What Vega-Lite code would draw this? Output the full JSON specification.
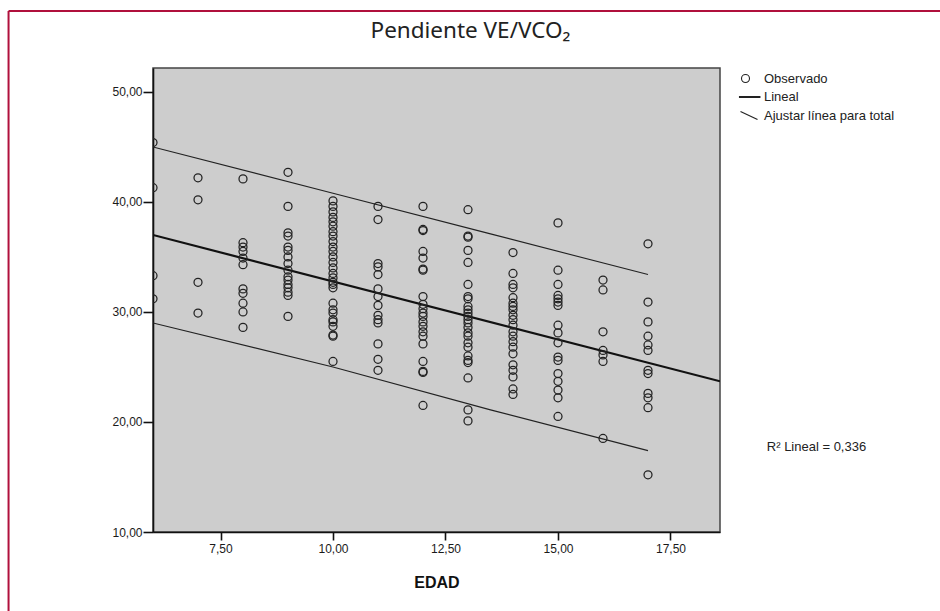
{
  "$schema": "https://vega.github.io/schema/vega-lite/v6.json",
  "autosize": "none",
  "width": 567,
  "height": 464,
  "padding": {"left": 153, "top": 68, "right": 220, "bottom": 79},
  "background": "white",
  "title": {
    "text": "Pendiente VE/VCO₂",
    "font": "Noto Sans",
    "fontSize": 22.5,
    "fontWeight": "normal",
    "color": "#222222",
    "anchor": "middle",
    "frame": "group",
    "dx": 34,
    "offset": -32
  },
  "datasets": {
    "obs": [
      {"EDAD": 6, "VE": 45.4}, {"EDAD": 6, "VE": 41.3}, {"EDAD": 6, "VE": 33.3}, {"EDAD": 6, "VE": 31.2},
      {"EDAD": 7, "VE": 42.2}, {"EDAD": 7, "VE": 40.2}, {"EDAD": 7, "VE": 32.7}, {"EDAD": 7, "VE": 29.9},
      {"EDAD": 8, "VE": 42.1}, {"EDAD": 8, "VE": 36.3}, {"EDAD": 8, "VE": 35.9}, {"EDAD": 8, "VE": 35.5}, {"EDAD": 8, "VE": 34.9}, {"EDAD": 8, "VE": 34.3}, {"EDAD": 8, "VE": 32.1}, {"EDAD": 8, "VE": 31.7}, {"EDAD": 8, "VE": 30.8}, {"EDAD": 8, "VE": 30.0}, {"EDAD": 8, "VE": 28.6},
      {"EDAD": 9, "VE": 42.7}, {"EDAD": 9, "VE": 39.6}, {"EDAD": 9, "VE": 37.2}, {"EDAD": 9, "VE": 36.9}, {"EDAD": 9, "VE": 35.9}, {"EDAD": 9, "VE": 35.6}, {"EDAD": 9, "VE": 35.0}, {"EDAD": 9, "VE": 34.4}, {"EDAD": 9, "VE": 33.8}, {"EDAD": 9, "VE": 33.2}, {"EDAD": 9, "VE": 32.9}, {"EDAD": 9, "VE": 32.5}, {"EDAD": 9, "VE": 32.2}, {"EDAD": 9, "VE": 31.8}, {"EDAD": 9, "VE": 31.5}, {"EDAD": 9, "VE": 29.6},
      {"EDAD": 10, "VE": 40.1}, {"EDAD": 10, "VE": 39.6}, {"EDAD": 10, "VE": 39.1}, {"EDAD": 10, "VE": 38.6}, {"EDAD": 10, "VE": 38.2}, {"EDAD": 10, "VE": 37.8}, {"EDAD": 10, "VE": 37.3}, {"EDAD": 10, "VE": 36.9}, {"EDAD": 10, "VE": 36.4}, {"EDAD": 10, "VE": 35.9}, {"EDAD": 10, "VE": 35.5}, {"EDAD": 10, "VE": 35.0}, {"EDAD": 10, "VE": 34.5}, {"EDAD": 10, "VE": 34.0}, {"EDAD": 10, "VE": 33.5}, {"EDAD": 10, "VE": 33.1}, {"EDAD": 10, "VE": 32.7}, {"EDAD": 10, "VE": 32.5}, {"EDAD": 10, "VE": 32.2}, {"EDAD": 10, "VE": 30.8}, {"EDAD": 10, "VE": 30.2}, {"EDAD": 10, "VE": 29.9}, {"EDAD": 10, "VE": 29.3}, {"EDAD": 10, "VE": 29.1}, {"EDAD": 10, "VE": 28.7}, {"EDAD": 10, "VE": 27.9}, {"EDAD": 10, "VE": 27.8}, {"EDAD": 10, "VE": 25.5},
      {"EDAD": 11, "VE": 39.6}, {"EDAD": 11, "VE": 38.4}, {"EDAD": 11, "VE": 34.4}, {"EDAD": 11, "VE": 34.1}, {"EDAD": 11, "VE": 33.4}, {"EDAD": 11, "VE": 32.1}, {"EDAD": 11, "VE": 31.4}, {"EDAD": 11, "VE": 30.6}, {"EDAD": 11, "VE": 29.7}, {"EDAD": 11, "VE": 29.3}, {"EDAD": 11, "VE": 29.0}, {"EDAD": 11, "VE": 27.1}, {"EDAD": 11, "VE": 25.7}, {"EDAD": 11, "VE": 24.7},
      {"EDAD": 12, "VE": 39.6}, {"EDAD": 12, "VE": 37.5}, {"EDAD": 12, "VE": 37.4}, {"EDAD": 12, "VE": 35.5}, {"EDAD": 12, "VE": 34.9}, {"EDAD": 12, "VE": 33.9}, {"EDAD": 12, "VE": 33.8}, {"EDAD": 12, "VE": 31.4}, {"EDAD": 12, "VE": 30.7}, {"EDAD": 12, "VE": 30.3}, {"EDAD": 12, "VE": 29.9}, {"EDAD": 12, "VE": 29.6}, {"EDAD": 12, "VE": 29.1}, {"EDAD": 12, "VE": 28.7}, {"EDAD": 12, "VE": 28.2}, {"EDAD": 12, "VE": 27.8}, {"EDAD": 12, "VE": 27.1}, {"EDAD": 12, "VE": 25.5}, {"EDAD": 12, "VE": 24.6}, {"EDAD": 12, "VE": 24.5}, {"EDAD": 12, "VE": 21.5},
      {"EDAD": 13, "VE": 39.3}, {"EDAD": 13, "VE": 36.9}, {"EDAD": 13, "VE": 36.8}, {"EDAD": 13, "VE": 35.6}, {"EDAD": 13, "VE": 34.5}, {"EDAD": 13, "VE": 32.5}, {"EDAD": 13, "VE": 31.4}, {"EDAD": 13, "VE": 31.2}, {"EDAD": 13, "VE": 30.5}, {"EDAD": 13, "VE": 30.2}, {"EDAD": 13, "VE": 29.9}, {"EDAD": 13, "VE": 29.6}, {"EDAD": 13, "VE": 29.3}, {"EDAD": 13, "VE": 29.0}, {"EDAD": 13, "VE": 28.6}, {"EDAD": 13, "VE": 28.1}, {"EDAD": 13, "VE": 27.8}, {"EDAD": 13, "VE": 27.2}, {"EDAD": 13, "VE": 26.8}, {"EDAD": 13, "VE": 26.0}, {"EDAD": 13, "VE": 25.6}, {"EDAD": 13, "VE": 25.4}, {"EDAD": 13, "VE": 24.0}, {"EDAD": 13, "VE": 21.1}, {"EDAD": 13, "VE": 20.1},
      {"EDAD": 14, "VE": 35.4}, {"EDAD": 14, "VE": 33.5}, {"EDAD": 14, "VE": 32.5}, {"EDAD": 14, "VE": 32.2}, {"EDAD": 14, "VE": 31.3}, {"EDAD": 14, "VE": 30.8}, {"EDAD": 14, "VE": 30.5}, {"EDAD": 14, "VE": 30.2}, {"EDAD": 14, "VE": 29.7}, {"EDAD": 14, "VE": 29.3}, {"EDAD": 14, "VE": 28.8}, {"EDAD": 14, "VE": 28.2}, {"EDAD": 14, "VE": 27.8}, {"EDAD": 14, "VE": 27.3}, {"EDAD": 14, "VE": 26.8}, {"EDAD": 14, "VE": 26.2}, {"EDAD": 14, "VE": 25.2}, {"EDAD": 14, "VE": 24.7}, {"EDAD": 14, "VE": 24.1}, {"EDAD": 14, "VE": 23.0}, {"EDAD": 14, "VE": 22.5},
      {"EDAD": 15, "VE": 38.1}, {"EDAD": 15, "VE": 33.8}, {"EDAD": 15, "VE": 32.5}, {"EDAD": 15, "VE": 31.5}, {"EDAD": 15, "VE": 31.2}, {"EDAD": 15, "VE": 30.9}, {"EDAD": 15, "VE": 30.6}, {"EDAD": 15, "VE": 28.8}, {"EDAD": 15, "VE": 28.1}, {"EDAD": 15, "VE": 27.2}, {"EDAD": 15, "VE": 25.9}, {"EDAD": 15, "VE": 25.6}, {"EDAD": 15, "VE": 24.4}, {"EDAD": 15, "VE": 23.7}, {"EDAD": 15, "VE": 22.9}, {"EDAD": 15, "VE": 22.2}, {"EDAD": 15, "VE": 20.5},
      {"EDAD": 16, "VE": 32.9}, {"EDAD": 16, "VE": 32.0}, {"EDAD": 16, "VE": 28.2}, {"EDAD": 16, "VE": 26.5}, {"EDAD": 16, "VE": 26.1}, {"EDAD": 16, "VE": 25.5}, {"EDAD": 16, "VE": 18.5},
      {"EDAD": 17, "VE": 36.2}, {"EDAD": 17, "VE": 30.9}, {"EDAD": 17, "VE": 29.1}, {"EDAD": 17, "VE": 27.8}, {"EDAD": 17, "VE": 27.0}, {"EDAD": 17, "VE": 26.5}, {"EDAD": 17, "VE": 24.7}, {"EDAD": 17, "VE": 24.4}, {"EDAD": 17, "VE": 22.6}, {"EDAD": 17, "VE": 22.2}, {"EDAD": 17, "VE": 21.3}, {"EDAD": 17, "VE": 15.2}
    ],
    "fit": [
      {"EDAD": 6, "VE": 37.0},
      {"EDAD": 18.6, "VE": 23.7}
    ],
    "bands": [
      {"banda": "superior", "EDAD": 6, "VE": 45.0},
      {"banda": "superior", "EDAD": 10, "VE": 40.8},
      {"banda": "superior", "EDAD": 13.5, "VE": 37.1},
      {"banda": "superior", "EDAD": 17, "VE": 33.4},
      {"banda": "inferior", "EDAD": 6, "VE": 29.0},
      {"banda": "inferior", "EDAD": 10, "VE": 25.0},
      {"banda": "inferior", "EDAD": 13.5, "VE": 21.1},
      {"banda": "inferior", "EDAD": 17, "VE": 17.4}
    ]
  },
  "layer": [
    {
      "data": {"values": [{}]},
      "mark": {"type": "rule", "color": "#b0103c", "strokeWidth": 2, "clip": false},
      "encoding": {
        "x": {"datum": 2.79, "type": "quantitative"},
        "x2": {"datum": 24.0},
        "y": {"datum": 57.36, "type": "quantitative"}
      }
    },
    {
      "data": {"values": [{}]},
      "mark": {"type": "rule", "color": "#b0103c", "strokeWidth": 2, "clip": false},
      "encoding": {
        "x": {"datum": 2.79, "type": "quantitative"},
        "y": {"datum": 57.36, "type": "quantitative"},
        "y2": {"datum": 2.0}
      }
    },
    {
      "data": {"name": "bands"},
      "mark": {"type": "line", "color": "#222222", "strokeWidth": 1.1, "clip": true},
      "encoding": {
        "x": {"field": "EDAD", "type": "quantitative"},
        "y": {"field": "VE", "type": "quantitative"},
        "detail": {"field": "banda"}
      }
    },
    {
      "data": {"name": "fit"},
      "mark": {"type": "line", "color": "#111111", "strokeWidth": 2.2, "clip": true},
      "encoding": {
        "x": {"field": "EDAD", "type": "quantitative"},
        "y": {"field": "VE", "type": "quantitative"}
      }
    },
    {
      "data": {"name": "obs"},
      "mark": {"type": "point", "filled": false, "color": "#222222", "size": 64, "strokeWidth": 1.25, "opacity": 1, "clip": true},
      "encoding": {
        "x": {
          "field": "EDAD",
          "type": "quantitative",
          "scale": {"domain": [6, 18.6], "nice": false, "zero": false},
          "axis": {"title": "EDAD", "values": [7.5, 10, 12.5, 15, 17.5], "format": ".2f", "grid": false}
        },
        "y": {
          "field": "VE",
          "type": "quantitative",
          "scale": {"domain": [10, 52.18], "nice": false, "zero": false},
          "axis": {"title": null, "values": [10, 20, 30, 40, 50], "format": ".2f", "grid": false}
        },
        "shape": {
          "datum": "Observado",
          "scale": {
            "domain": ["Observado", "Lineal", "Ajustar línea para total"],
            "range": ["circle", "M-1.5,-0.12H3.6V0.12H-1.5Z", "M-1.25,-1L3,1"]
          },
          "legend": {"title": null}
        }
      }
    },
    {
      "data": {"values": [{}]},
      "mark": {"type": "text", "text": "R² Lineal = 0,336", "align": "left", "baseline": "middle", "font": "Liberation Sans", "fontSize": 13, "color": "#222222", "clip": false},
      "encoding": {
        "x": {"datum": 19.64, "type": "quantitative"},
        "y": {"datum": 17.77, "type": "quantitative"}
      }
    }
  ],
  "config": {
    "locale": {"number": {"decimal": ",", "thousands": ".", "grouping": [3], "currency": ["", " €"]}},
    "view": {"fill": "#cdcdcd", "stroke": "#444444", "strokeWidth": 1.5},
    "axis": {
      "domainColor": "#111111",
      "domainWidth": 1.6,
      "tickColor": "#111111",
      "tickWidth": 1.6,
      "labelFont": "Liberation Sans",
      "labelFontSize": 12,
      "labelColor": "#1a1a1a",
      "titleFont": "Liberation Sans",
      "titleColor": "#111111"
    },
    "axisX": {"tickSize": 8, "labelPadding": 3, "titleFontSize": 16, "titleFontWeight": "bold", "titlePadding": 20},
    "axisY": {"tickSize": 10, "labelPadding": 1},
    "legend": {
      "orient": "none",
      "legendX": 586,
      "legendY": 4,
      "padding": 0,
      "symbolSize": 64,
      "symbolStrokeColor": "#222222",
      "symbolStrokeWidth": 1.1,
      "symbolFillColor": "transparent",
      "labelFont": "Liberation Sans",
      "labelFontSize": 13,
      "labelColor": "#222222",
      "labelOffset": 12,
      "rowPadding": 4.5
    }
  }
}
